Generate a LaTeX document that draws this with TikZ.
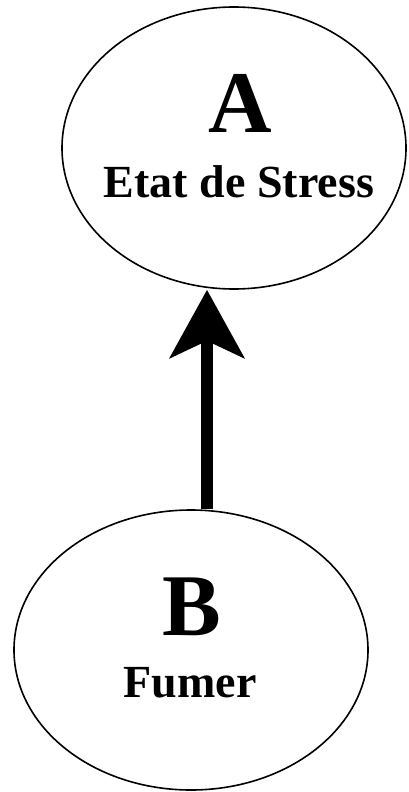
\documentclass[tikz,border=0pt]{standalone}
\usepackage{fontspec}
\setmainfont{Liberation Serif}
\usetikzlibrary{shapes.geometric,arrows.meta}

\begin{document}
\begin{tikzpicture}[
    x=1pt, y=1pt,
    blob/.style={ellipse, draw=black, line width=1.6pt, inner sep=0pt},
    letter/.style={anchor=base, inner sep=0pt, font=\fontsize{88}{88}\selectfont\bfseries},
    caption/.style={anchor=base, inner sep=0pt, font=\fontsize{46}{46}\selectfont\bfseries},
    arrow/.style={-{Stealth[length=68pt, width=74pt, inset=17pt]}, line width=12pt}
]
\useasboundingbox (0,0) rectangle (408,-792);

% Ellipses
\node[blob, minimum width=344pt, minimum height=282pt] (A) at (234,-148) {};
\node[blob, minimum width=354pt, minimum height=280pt] (B) at (191,-650) {};

% Texts
\node[letter] (Aletter) at ([xshift=6pt, yshift=16pt]A.center) {A};
\node[caption] (Acaption) at ([xshift=5pt, yshift=-49pt]A.center) {Etat de Stress};
\node[letter] (Bletter) at ([xshift=1pt, yshift=15pt]B.center) {B};
\node[caption] (Bcaption) at ([xshift=-1pt, yshift=-47pt]B.center) {Fumer};

% Arrow
\draw[arrow] ([xshift=16pt]B.north) -- ([xshift=16pt]B.north |- A.south);

\end{tikzpicture}
\end{document}
